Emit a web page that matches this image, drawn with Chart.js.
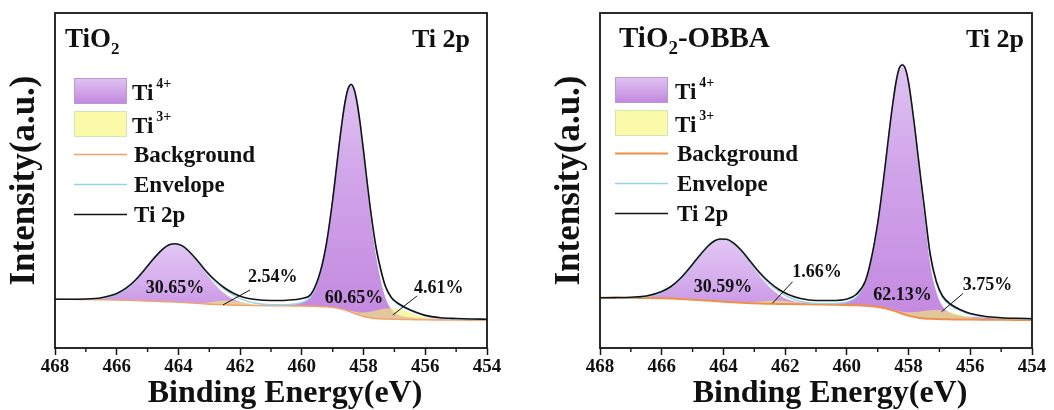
<!DOCTYPE html>
<html>
<head>
<meta charset="utf-8">
<script src="https://cdn.jsdelivr.net/npm/chart.js@4.4.1/dist/chart.umd.min.js"></script>
<style>
  html, body { margin:0; padding:0; background:#fff; }
  #wrap { position:relative; width:1054px; height:410px; overflow:hidden; background:#fff; }
  canvas { position:absolute; top:0; }
</style>
</head>
<body>
<div id="wrap">
  <canvas id="tio2" width="527" height="410" style="left:0"></canvas>
  <canvas id="obba" width="527" height="410" style="left:527px"></canvas>
</div>
<script>
// ---------- shared axis data ----------
const energies = [468,467.5,467,466.5,466,465.7,465.4,465.1,464.8,464.5,464.3,464.1,463.9,463.7,463.4,463.1,462.8,462.5,462.2,461.9,461.5,461,460.5,460,459.7,459.4,459.2,459.0,458.9,458.8,458.7,458.6,458.5,458.4,458.3,458.2,458.1,458.0,457.9,457.8,457.7,457.6,457.5,457.3,457.1,456.9,456.6,456.3,456,455.5,455,454.5,454];
const xTicks = [468,466,464,462,460,458,456,454];
const minorTicks = [467,465,463,461,459,457,455];
const xTitle = 'Binding Energy(eV)';
const yTitle = 'Intensity(a.u.)';

// ---------- TiO2 panel ----------
const tio2Raw = [48.8,48.8,49.0,50.3,54.5,59.8,67.8,78.3,89.5,99.2,103.2,104.3,102.6,98,88,76.8,67.5,60,54.5,50.8,48.5,47.5,47.8,49.5,54,76.5,105,148.5,174.5,201,225.5,246,259.5,263.5,258,243.5,222,196.8,170,144,121.5,101.5,86,62.5,50.5,45,39.8,35.8,32.6,30.3,29.5,29.0,28.8];
const tio2Envelope = [48.7,48.6,48.6,49.6,53.6,58.8,66.9,77.5,88.9,98.6,102.7,103.9,102.2,97.5,87.3,75.8,66.1,58.6,52.5,48.2,44.8,43.3,43.4,45.5,51.8,75.5,104.4,148.1,174.0,200.5,225.3,246.0,259.6,264.0,258.2,243.3,221.7,196.3,169.5,143.6,120.6,100.8,85.1,61.5,49.8,44.1,38.9,35.0,31.9,29.6,28.9,28.6,28.4];
const tio2Background = [48.7,48.6,48.4,48.2,48.0,47.7,47.4,47.0,46.6,46.3,46.1,45.9,45.6,45.2,44.6,44.0,43.5,43.1,42.8,42.6,42.4,42.2,42.1,42.0,41.8,41.5,41.1,40.6,40.1,39.5,38.7,37.8,36.8,35.7,34.5,33.4,32.4,31.5,30.8,30.2,29.8,29.5,29.3,29.0,28.8,28.6,28.4,28.2,28.1,28.0,27.9,27.8,27.7];
// component heights above the background
const tio2Ti4p12 = [0,0,0.2,1.4,5.6,11.1,19.5,30.5,42.3,52.3,56.6,58,56.6,52.3,42.3,30.5,19.5,11.1,5.6,2.6,0.8,0.2,0,0,0,0,0,0,0,0,0,0,0,0,0,0,0,0,0,0,0,0,0,0,0,0,0,0,0,0,0,0,0];
const tio2Ti4p32 = [0,0,0,0,0,0,0,0,0,0,0,0,0,0,0,0,0,0,0,0.2,0.4,0.6,1.3,3.5,10,34,63.3,107.4,133.7,160.7,186.1,207.5,221.8,227,221.8,207.5,186.1,160.7,133.7,107.4,83.8,63.3,46.8,22,10,5,2.5,1.8,1.4,1.1,0.9,0.8,0.7];
const tio2Ti3 = [0,0,0,0,0,0,0,0,0,0,0,0,0,0,0.4,1.3,3.1,4.4,4.1,2.8,1.2,0.3,0,0,0,0,0,0.1,0.2,0.3,0.5,0.7,1.0,1.3,1.9,2.4,3.2,4.1,5,6,7,8,9,10.5,11,10.5,8,5,2.4,0.5,0.1,0,0];
const tio2Percents = ['30.65%','2.54%','60.65%','4.61%'];

// ---------- TiO2-OBBA panel ----------
const obbaRaw = [50.3,50.4,50.8,52,56.5,61.5,69.5,80,91.5,102,107,109,108.8,105.7,97,85.5,74.5,65.5,58.5,53.5,49.5,47.5,47.5,49,53.5,67,90.5,125,147,171.5,197.5,223.5,247,267,280,283,279,265.5,244.5,220.5,194,168,143.5,94,66.5,52,43,38,34.5,31.5,30.3,29.7,29.3];
const obbaEnvelope = [50.3,50.2,50.3,51.4,55.5,60.7,68.6,79.0,90.8,101.3,106.3,108.6,108.2,105.0,96.0,84.4,73.2,63.8,56.5,51.0,46.5,44.6,44.5,46.0,50.7,66.2,90.0,124.5,146.4,171.1,197.0,223.1,246.7,267.0,279.7,283.8,278.7,265.1,244.1,220.0,193.6,167.5,142.7,92.7,64.9,50.5,41.7,37.0,33.8,30.9,29.8,29.3,29.0];
const obbaBackground = [50.3,50.2,50.0,49.9,49.7,49.4,49.0,48.5,48.0,47.4,47.0,46.5,46.1,45.7,45.2,44.8,44.5,44.3,44.1,44.0,43.8,43.5,43.3,43.0,42.7,42.2,41.7,41.0,40.5,39.9,39.2,38.4,37.5,36.5,35.4,34.3,33.3,32.4,31.6,30.9,30.3,29.9,29.6,29.2,28.9,28.7,28.6,28.5,28.4,28.3,28.2,28.1,28.0];
const obbaTi4p12 = [0,0,0.3,1.5,5.8,11.3,19.6,30.5,42.8,53.9,59.3,62.1,62.1,59.3,50.5,38.7,26.7,16.5,9.2,4.6,1.6,0.3,0,0,0,0,0,0,0,0,0,0,0,0,0,0,0,0,0,0,0,0,0,0,0,0,0,0,0,0,0,0,0];
const obbaTi4p32 = [0,0,0,0,0,0,0,0,0,0,0,0,0,0,0,0,0,0,0,0.1,0.3,0.5,1.2,3,8,24,48.3,83.4,105.7,130.9,157.4,184.1,208.4,229.4,242.8,247.5,242.8,229.4,208.4,184.1,157.4,130.9,105.7,55,27,13,6,3.8,2.8,2,1.5,1.2,1.0];
const obbaTi3 = [0,0,0,0,0,0,0,0,0,0,0,0,0,0,0.3,0.9,2,3,3.2,2.4,1.1,0.3,0,0,0,0,0,0.1,0.2,0.3,0.4,0.6,0.8,1.1,1.5,2,2.6,3.3,4.1,5,5.9,6.7,7.4,8.5,9,8.8,7.1,4.7,2.6,0.6,0.1,0,0];
const obbaPercents = ['30.59%','1.66%','62.13%','3.75%'];

const legendNames = ['Background','Envelope','Ti 2p'];

// ---------- drawing ----------
const F = '"Liberation Serif","Times New Roman",Times,serif';
Chart.defaults.font.family = F;

function purple(net, bg, stops) {
  return (ctx) => {
    const chart = ctx.chart;
    if (!chart.chartArea) return stops[stops.length - 1][1];
    let mx = -1, k = 0;
    net.forEach((v, i) => { if (v > mx) { mx = v; k = i; } });
    const ys = chart.scales.y;
    const top = ys.getPixelForValue(bg[k] + mx);
    const bot = ys.getPixelForValue(bg[k]);
    const g = chart.ctx.createLinearGradient(0, top, 0, bot);
    stops.forEach(s => g.addColorStop(s[0], s[1]));
    return g;
  };
}

function decor(L, d) {
  return {
    id: 'decor',
    afterDraw(chart) {
      const c = chart.ctx, a = chart.chartArea, xs = chart.scales.x, ys = chart.scales.y;
      c.save();
      // frame
      c.strokeStyle = '#151515'; c.lineWidth = 1.8;
      c.strokeRect(a.left, a.top, a.right - a.left, a.bottom - a.top);
      // minor ticks
      c.lineWidth = 1.4;
      minorTicks.forEach(v => {
        const x = xs.getPixelForValue(v);
        c.beginPath(); c.moveTo(x, a.bottom); c.lineTo(x, a.bottom + 4); c.stroke();
      });
      c.fillStyle = '#111'; c.textBaseline = 'alphabetic';
      // x axis title
      c.textAlign = 'center'; c.font = `bold 32px ${F}`;
      c.fillText(xTitle, (a.left + a.right) / 2 + 14, 402);
      // sample title
      c.textAlign = 'left';
      let x = L.titleX;
      c.font = `bold ${L.titleSize}px ${F}`; c.fillText('TiO', x, 47); x += c.measureText('TiO').width;
      c.font = `bold ${Math.round(L.titleSize * 0.64)}px ${F}`; c.fillText('2', x, 54); x += c.measureText('2').width;
      if (L.titleRest) { c.font = `bold ${L.titleSize}px ${F}`; c.fillText(L.titleRest, x, 47); }
      c.textAlign = 'right'; c.font = `bold 26px ${F}`;
      c.fillText('Ti 2p', L.coreX, 47);
      // legend
      const lx = L.legendX, dy = L.legendDy, tx = L.legendTextX;
      let g = c.createLinearGradient(0, 78 + dy, 0, 104 + dy);
      g.addColorStop(0, '#e0c4f2'); g.addColorStop(1, '#c286df');
      c.fillStyle = g; c.fillRect(lx, 78 + dy, 53, 26);
      c.strokeStyle = '#b79bd0'; c.lineWidth = 1; c.strokeRect(lx + 0.5, 78.5 + dy, 52, 25);
      c.fillStyle = '#fbfaa8'; c.fillRect(lx, 111 + dy, 53, 26);
      c.strokeStyle = '#cfe6b6'; c.strokeRect(lx + 0.5, 111.5 + dy, 52, 25);
      const lineY = [154.5 + dy, 184.5 + dy, 214.5 + dy];
      const lineC = [L.bgColor, '#98d2ea', '#141414'];
      const lineW = [L.bgWidth, 1.4, 1.6];
      for (let i = 0; i < 3; i++) {
        c.strokeStyle = lineC[i]; c.lineWidth = lineW[i];
        c.beginPath(); c.moveTo(lx, lineY[i]); c.lineTo(lx + 53, lineY[i]); c.stroke();
      }
      c.fillStyle = '#111'; c.textAlign = 'left';
      c.font = `bold 23px ${F}`;
      c.fillText('Ti', tx, 100 + dy);
      c.fillText('Ti', tx, 133 + dy);
      const tiW = c.measureText('Ti').width;
      c.font = `bold 14px ${F}`;
      c.fillText('4+', tx + tiW + 3, 88 + dy);
      c.fillText('3+', tx + tiW + 3, 121 + dy);
      c.font = `bold 23px ${F}`;
      legendNames.forEach((n, i) => c.fillText(n, tx + 2, [162, 192, 222][i] + dy));
      // percentages
      c.font = `bold 18px ${F}`; c.textAlign = 'center';
      L.labels.forEach((p, i) => {
        c.fillText(d.percents[i], xs.getPixelForValue(p[0]), ys.getPixelForValue(p[1]));
      });
      c.strokeStyle = '#111'; c.lineWidth = 1;
      L.leaders.forEach(s => {
        c.beginPath();
        c.moveTo(xs.getPixelForValue(s[0]), ys.getPixelForValue(s[1]));
        c.lineTo(xs.getPixelForValue(s[2]), ys.getPixelForValue(s[3]));
        c.stroke();
      });
      c.restore();
    }
  };
}

function buildChart(id, d, L) {
  const pts = arr => energies.map((e, i) => ({ x: e, y: arr[i] }));
  const on = net => energies.map((e, i) => ({ x: e, y: d.background[i] + net[i] }));
  const base = { pointRadius: 0, pointHoverRadius: 0, cubicInterpolationMode: 'monotone', fill: false };
  const clear = 'rgba(0,0,0,0)';
  const datasets = [
    { ...base, label: 'Ti 2p', data: pts(d.raw), borderColor: '#141414', borderWidth: 1.6 },
    { ...base, label: 'Envelope', data: pts(d.envelope), borderColor: '#98d2ea', borderWidth: 1.4 },
    { ...base, label: 'Background', data: pts(d.background), borderColor: L.bgColor, borderWidth: L.bgWidth },
    { ...base, label: 'Ti 3+', data: on(d.ti3), borderColor: clear, borderWidth: 0, backgroundColor: 'rgba(247,240,110,0.6)', fill: 2 },
    { ...base, label: 'Ti 4+ (2p1/2)', data: on(d.ti4p12), borderColor: clear, borderWidth: 0,
      backgroundColor: purple(d.ti4p12, d.background, [[0, '#e2c6f3'], [0.6, '#d7b0ee'], [1, '#cc9be6']]), fill: 2 },
    { ...base, label: 'Ti 4+ (2p3/2)', data: on(d.ti4p32), borderColor: clear, borderWidth: 0,
      backgroundColor: purple(d.ti4p32, d.background, [[0, '#e0c3f2'], [0.4, '#d1a5ea'], [1, '#c48ae0']]), fill: 2 }
  ];
  new Chart(document.getElementById(id), {
    type: 'line',
    data: { datasets },
    options: {
      responsive: false, animation: false, devicePixelRatio: 1,
      layout: { padding: { left: 0, top: 13, right: L.padRight, bottom: 0 } },
      plugins: { legend: { display: false }, tooltip: { enabled: false } },
      scales: {
        x: {
          type: 'linear', min: 454, max: 468, reverse: true,
          afterFit: s => { s.height = 62; },
          afterBuildTicks: s => { s.ticks = xTicks.map(v => ({ value: v })); },
          ticks: { font: { family: F, size: 19, weight: 'bold' }, color: '#111', padding: 1, maxRotation: 0, autoSkip: false },
          grid: { display: true, drawOnChartArea: false, drawTicks: true, tickLength: 7, tickColor: '#151515', tickWidth: 1.5 },
          border: { display: false },
          title: { display: false, text: xTitle }
        },
        y: {
          min: 0, max: 335,
          afterFit: s => { s.width = L.yWidth; },
          ticks: { display: false }, grid: { display: false }, border: { display: false },
          title: { display: true, text: yTitle, color: '#111', font: { family: F, size: 35, weight: 'bold', lineHeight: 1 }, padding: { top: L.yTitlePad, bottom: 0 } }
        }
      }
    },
    plugins: [decor(L, d)]
  });
}

buildChart('tio2',
  { raw: tio2Raw, envelope: tio2Envelope, background: tio2Background, ti4p12: tio2Ti4p12, ti4p32: tio2Ti4p32, ti3: tio2Ti3, percents: tio2Percents },
  { padRight: 40, yWidth: 55, yTitlePad: 7, bgColor: '#f4a26c', bgWidth: 1.4,
    titleX: 65, titleSize: 27, titleRest: '', coreX: 470, legendX: 74, legendDy: 0, legendTextX: 132,
    labels: [[464.11, 54.7], [460.94, 66.3], [458.31, 44.7], [455.56, 54.7]],
    leaders: [[462.56, 43, 461.68, 58], [457.05, 33, 456.27, 52]] });

buildChart('obba',
  { raw: obbaRaw, envelope: obbaEnvelope, background: obbaBackground, ti4p12: obbaTi4p12, ti4p32: obbaTi4p32, ti3: obbaTi3, percents: obbaPercents },
  { padRight: 22, yWidth: 73, yTitlePad: 25, bgColor: '#f08f48', bgWidth: 2,
    titleX: 92, titleSize: 29, titleRest: '-OBBA', coreX: 497, legendX: 88, legendDy: -1, legendTextX: 148,
    labels: [[464.01, 56.3], [460.97, 71.3], [458.2, 48], [455.44, 58]],
    leaders: [[462.41, 44.7, 461.76, 66.3], [456.93, 36.3, 456.23, 54.7]] });
</script>
</body>
</html>
